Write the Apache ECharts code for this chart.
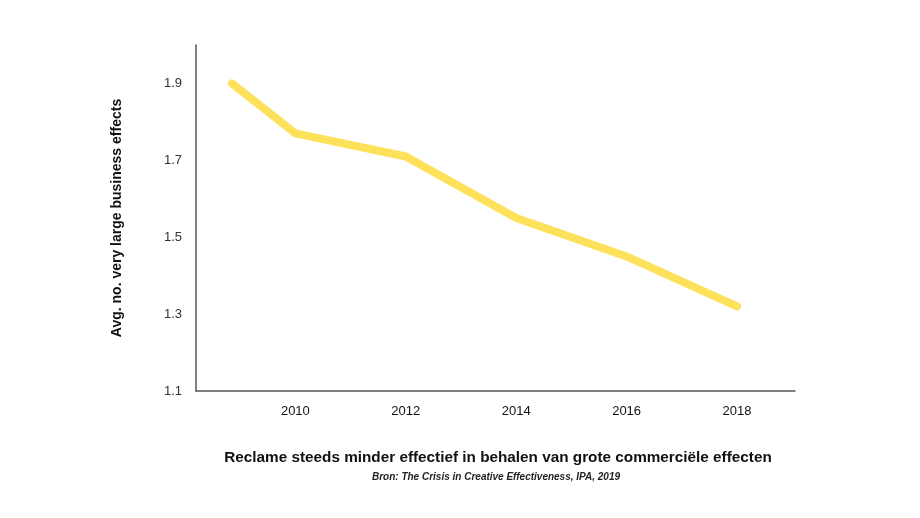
<!DOCTYPE html>
<html><head><meta charset="utf-8">
<script src="https://cdn.jsdelivr.net/npm/echarts@6/dist/echarts.min.js"></script>
<style>html,body{margin:0;padding:0;background:#fff}#c{width:920px;height:518px}</style>
</head><body><div id="c"></div>
<script>
const years = [2008.85, 2010, 2012, 2014, 2016, 2018];
const values = [1.90, 1.77, 1.71, 1.55, 1.45, 1.32];
const xTickLabels = [2010, 2012, 2014, 2016, 2018];
const yTickLabels = [1.1, 1.3, 1.5, 1.7, 1.9];
const titleText = 'Reclame steeds minder effectief in behalen van grote commerciële effecten';
const sourceText = 'Bron: The Crisis in Creative Effectiveness, IPA, 2019';
const yName = 'Avg. no. very large business effects';

const chart = echarts.init(document.getElementById('c'));
chart.setOption({
  animation: false,
  backgroundColor: '#fff',
  title: [
    {text: titleText, left: 493, top: 445, textAlign: 'center',
     textStyle: {fontFamily: 'Liberation Sans', fontSize: 15.3, fontWeight: 'bold', color: '#111'}},
    {text: sourceText, left: 491, top: 467, textAlign: 'center',
     textStyle: {fontFamily: 'Liberation Sans', fontSize: 10, fontWeight: 'bold', fontStyle: 'italic', color: '#222'}}
  ],
  grid: {left: 196, right: 125, top: 45, bottom: 127},
  xAxis: {
    type: 'value', min: 2008.2, max: 2019.05,
    splitLine: {show: false},
    axisLine: {lineStyle: {color: '#555', width: 1.5}},
    axisTick: {show: false},
    axisLabel: {customValues: xTickLabels, margin: 14, color: '#111', fontSize: 13,
      fontFamily: 'Liberation Sans', formatter: v => String(v)}
  },
  yAxis: {
    type: 'value', min: 1.1, max: 2.0,
    name: yName, nameLocation: 'middle', nameGap: 72, nameRotate: 90,
    nameTextStyle: {fontFamily: 'Liberation Sans', fontSize: 14, fontWeight: 'bold', color: '#111'},
    splitLine: {show: false},
    axisLine: {show: true, lineStyle: {color: '#555', width: 1.5}},
    axisTick: {show: false},
    axisLabel: {customValues: yTickLabels, margin: 14, color: '#333', fontSize: 13,
      fontFamily: 'Liberation Sans', formatter: v => v.toFixed(1)}
  },
  series: [{
    type: 'line', data: years.map((y, i) => [y, values[i]]),
    showSymbol: false, symbol: 'none',
    lineStyle: {color: '#FDE15A', width: 8, cap: 'round', join: 'round'}
  }]
});
</script></body></html>
